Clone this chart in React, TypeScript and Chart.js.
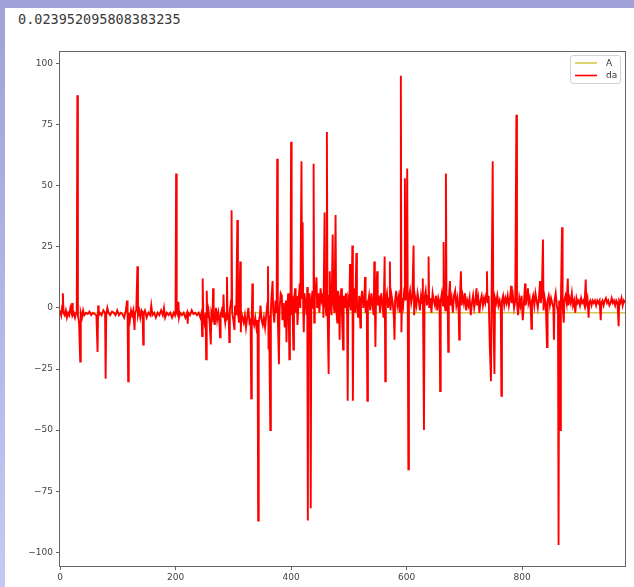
import { useEffect, useRef } from "react";
import { Chart, registerables } from "chart.js";

Chart.register(...registerables);

// Value printed by the cell above the plot
const printedValue = "0.023952095808383235";

// Axis ticks
const xTicks = [0, 200, 400, 600, 800];
const xMax = 978;
const yTicks = [-100, -75, -50, -25, 0, 25, 50, 75, 100];
const yTickLabels = ["−100", "−75", "−50", "−25", "0", "25", "50", "75", "100"];
const yMin = -105.6;
const yMax = 104.7;

const seriesNames = ["A", "da"];

// Series A: flat level just under zero
const aSeries: [number, number][] = [
  [0, -2], [250, -2], [500, -2], [750, -2], [978, -2],
];

// Series da, index → value, split by stretch of the record
const daQuiet: [number, number][] = [
  [0, -1], [2, -3], [4, 1], [5, 6], [6, -2], [8, -3], [10, -1], [12, -4], [14, -2], [16, -3],
  [18, 0], [20, -2], [21, 2], [22, -3], [24, -2], [26, -4], [28, -2], [29, -1], [30, 87], [31, -3],
  [33, -6], [35, -22], [36, -2], [38, -4], [40, -1], [42, -3], [45, -2], [48, -2.5], [51, -1.5], [54, -3],
  [57, -2], [60, -2.5], [63, -3], [65, -18], [66, 1], [67, -3], [69, -2], [72, -3], [75, -1], [78, -2],
  [79, -29], [80, -3], [82, 0], [84, -2], [87, -3], [90, -1.5], [93, -2], [96, -3], [99, -1], [102, -3],
  [105, -2], [108, -2.5], [111, -4], [114, -1], [116, 3], [117, -3], [118, -30], [119, -2], [121, -5], [123, -1],
  [125, -3], [127, -1], [129, -9], [130, -2], [132, -1], [134, 17], [135, -3], [137, -1], [139, -4], [141, -1],
  [143, -2], [144, -15], [145, -2], [147, -1], [150, -4], [153, -2], [156, -3], [158, 1], [160, -3], [163, -2],
  [166, -4], [169, -2], [172, -3], [175, -1], [178, -3], [180, 0], [182, -4], [185, -2], [188, -3], [191, -2],
  [194, -4], [197, -2], [199, -3], [200, -1], [201, 55], [202, -2], [204, -3], [205, 2.5], [206, -4], [208, -2],
  [211, -3], [214, -2], [217, -4], [220, -2], [221, -6.5], [222, -2], [225, -3], [228, -1], [231, -2.5], [234, -2],
  [237, -3], [240, -2], [243, -4],
];

const daRising: [number, number][] = [
  [245, -2], [246, -11.5], [247, 12], [248, -3], [250, -6], [252, -2], [253, -21], [254, 7], [255, -4], [257, -1],
  [259, -6], [261, -15], [262, -2], [264, -4], [265, 8], [266, -3], [268, -7], [270, 0], [272, -5], [274, -2],
  [276, -6], [277, -12], [278, -3], [280, -1], [282, -4], [283, 5.5], [284, -2], [286, -6], [288, -2], [289, 12.6],
  [290, -4], [292, -3], [293, -14], [294, -1], [296, 3], [297, 40], [298, -2], [300, -5], [302, -9], [303, 1],
  [305, -3], [307, 36], [308, -2], [310, -6], [312, 19], [313, -10], [314, -2], [316, -4], [318, -6], [320, -3],
  [322, -8], [324, -4], [326, 0], [328, -6], [330, -5], [331, -37], [332, -3], [333, 10], [334, -5], [336, -7],
  [338, -4], [340, -8], [342, -5], [343, -87], [344, -6], [346, -3], [347, 1], [349, -5], [351, -7], [353, -4],
  [355, -8], [357, -3], [359, 2], [360, 17], [361, -17], [362, -3], [364, -50], [365, -2], [366, 4], [368, 11],
  [369, -1], [371, -6], [373, 3], [375, -2], [376, 61], [377, -4], [379, -23], [380, -1], [382, 6], [384, 5],
  [385, -5], [387, 2], [389, -8], [391, 3], [392, -14], [393, -2], [395, 6], [396, -3], [397, -21], [398, -4],
  [399, 2], [400, 68], [401, -3],
];

const daActive: [number, number][] = [
  [402, 5], [404, -17], [405, 3], [407, 8], [408, -2], [410, 5], [411, -7], [413, 3], [415, 10], [416, 0],
  [418, 60], [419, 4], [420, 35], [421, -1], [422, -10], [423, 6], [425, 2], [427, -3], [428, 8.5], [429, -87],
  [430, 3], [432, 6], [433, -1], [434, -82], [435, 2], [437, 7], [438, 0], [439, 59], [440, -6], [441, 4],
  [443, 9], [444, 12.5], [445, 0], [447, 6], [449, -2], [451, 8], [453, 3], [455, 5], [456, -4], [458, 39],
  [459, 2], [461, -3], [462, 72], [463, 1], [465, -27], [466, 5], [467, 15], [468, 2], [470, -3], [472, 30],
  [473, 3], [475, -2], [477, 38], [478, 0], [480, -6], [481, 7], [483, 2], [484, -13], [485, 4], [487, 8],
  [488, -2], [490, -17], [491, 5], [493, 0], [495, 6], [497, -3], [498, -38], [499, 4], [501, 2], [502, 18],
  [503, -1], [505, 3], [506, 25.5], [507, -38], [508, 3], [510, 8], [511, -2], [513, 22.5], [514, 1], [516, -4],
  [518, 5], [520, -8], [521, 3], [523, 7], [525, 0], [527, 4], [528, 12.6], [529, -2], [531, 3], [532, -38],
  [533, 2], [535, 5], [537, -1], [539, 6], [541, 1], [543, -3], [544, 19], [545, 2], [546, -16], [547, 4],
  [549, 15], [550, 1], [552, 5], [554, -2], [556, 6], [558, 2], [560, -4], [562, 21], [563, -30], [564, 3],
  [566, 6], [568, 0], [570, 4], [571, 19], [572, -1], [574, 5], [576, 2], [578, -4], [579, -13], [580, 3],
  [582, 7], [584, 1], [586, 4], [588, -2], [589, 7], [590, 95], [591, -10],
];

const daLate: [number, number][] = [
  [592, 4], [594, 1], [596, 8], [597, 53], [598, 3], [600, 6], [601, 57], [603, -66], [604, 4], [606, 7],
  [608, 2], [610, 5], [612, 25.5], [613, -3], [615, 4], [617, 1], [619, 6], [621, 3], [623, -1], [625, 5],
  [627, 2], [628, 12], [630, -50], [631, 4], [633, 7], [635, 1], [637, 5], [638, 21], [639, 0], [641, 4],
  [643, -2], [645, 6], [647, 3], [649, 1], [651, 5], [653, -1], [655, 4], [657, 2], [658, -34], [659, 3],
  [661, 6], [663, 1], [664, 27], [665, 3], [667, -1], [668, 55], [669, 2], [671, 5], [672, -18], [673, 3],
  [675, 11], [676, 1], [678, 4], [680, -2], [682, 5], [684, 7], [686, 1], [688, 4], [690, -1], [691, -13],
  [692, 3], [694, 15], [695, 1], [697, 5], [699, 2], [701, 6], [703, -1], [705, 3], [707, 1], [709, 4],
  [711, -3], [713, 2], [715, 5], [717, 0], [719, 3], [721, 8], [722, 1], [724, 4], [726, -2], [728, 3],
  [730, 5], [732, 1], [734, 4], [736, 2], [738, 6], [739, 15], [740, 2], [742, 5], [744, -16], [746, -30],
  [747, 3], [749, 60], [750, 1], [752, -27], [753, 4], [755, 2], [757, 5], [759, 1], [761, 3], [763, 0],
  [764, -36], [765, 3], [767, 5], [769, 1], [771, 4], [773, 2], [775, 5], [777, 1], [779, 4], [781, 9],
  [782, 2], [784, 5], [786, 0], [788, 3], [790, 79], [791, 2],
];

const daTail: [number, number][] = [
  [793, -3], [795, 4], [797, 1], [799, 5], [801, -5], [803, 2], [805, 10], [806, 1], [808, 4], [810, 8],
  [811, 2], [813, 4], [815, -1], [816, -8.6], [817, 3], [819, 5], [821, 1], [823, 6], [825, 3], [827, 0],
  [829, 4], [831, 11], [832, 2], [834, 5], [836, 28], [837, -1], [839, 4], [841, 1], [843, -16], [844, 3],
  [846, 5], [848, 1], [850, 4], [852, 2], [854, 0], [855, -13], [856, 3], [858, 6], [860, 1], [862, -2],
  [863, -97], [864, 3], [866, -50], [867, 2], [869, 33], [870, 1], [872, -6], [873, 3], [875, 5], [877, 2],
  [879, 12], [880, 1], [882, 4], [884, 2], [886, 6], [888, 1], [890, 3], [892, -2], [894, 4], [896, 2],
  [898, 3], [900, 1], [902, 4], [904, 2], [906, 3], [908, 1], [910, 11.6], [911, 2], [913, 4], [915, -4],
  [916, 2], [918, 3], [920, 1], [922, 3], [924, 2], [926, 3], [928, 1], [930, 3], [932, 2], [934, 3],
  [936, -5], [937, 2], [939, 3], [941, 1], [943, 3], [945, 4], [947, 2], [949, 3], [951, 1], [953, 2],
  [955, 4], [957, 2], [959, 3], [961, 1], [963, 3], [965, 2], [967, -7.5], [968, 3], [970, 2], [972, 4],
  [974, 1], [976, 3], [978, 2],
];

const colorA = "#d4c94c";
const colorDa = "#ff0000";
const tickColor = "#444";
const spineColor = "#666";
const fontFamily = '"DejaVu Sans", sans-serif';

const toXY = (pts: [number, number][]) => pts.map(([x, y]) => ({ x, y }));

// Axes box on all four sides, drawn over the lines
const framePlugin = {
  id: "frame",
  afterDatasetsDraw(chart: any) {
    const { ctx, chartArea } = chart;
    ctx.save();
    ctx.strokeStyle = spineColor;
    ctx.lineWidth = 1;
    ctx.strokeRect(
      chartArea.left - 0.5,
      chartArea.top - 0.5,
      chartArea.right - chartArea.left + 1,
      chartArea.bottom - chartArea.top + 1
    );
    ctx.restore();
  },
};

// Boxed legend in the upper right corner of the plot
const insetLegendPlugin = {
  id: "insetLegend",
  afterDraw(chart: any) {
    const { ctx, chartArea } = chart;
    const w = 50;
    const h = 28;
    const x = chartArea.right - 5 - w;
    const y = chartArea.top + 3;
    ctx.save();
    ctx.beginPath();
    ctx.roundRect(x + 0.5, y + 0.5, w, h, 2.5);
    ctx.fillStyle = "rgba(255,255,255,0.85)";
    ctx.fill();
    ctx.strokeStyle = "#d2d2d2";
    ctx.lineWidth = 1;
    ctx.stroke();
    const colors = [colorA, colorDa];
    ctx.font = `9px ${fontFamily}`;
    ctx.textBaseline = "middle";
    ctx.textAlign = "left";
    seriesNames.forEach((name, i) => {
      const ly = y + 8 + i * 12.5;
      ctx.strokeStyle = colors[i];
      ctx.lineWidth = 1.6;
      ctx.beginPath();
      ctx.moveTo(x + 5, ly);
      ctx.lineTo(x + 27, ly);
      ctx.stroke();
      ctx.fillStyle = "#333";
      ctx.fillText(name, x + 36, ly + 0.5);
    });
    ctx.restore();
  },
};

function LineChart() {
  const canvasRef = useRef<HTMLCanvasElement | null>(null);

  useEffect(() => {
    const canvas = canvasRef.current;
    if (!canvas) return;
    const daSeries = [...daQuiet, ...daRising, ...daActive, ...daLate, ...daTail];
    const chart = new Chart(canvas, {
      type: "line",
      data: {
        datasets: [
          {
            label: seriesNames[0],
            data: toXY(aSeries),
            borderColor: colorA,
            borderWidth: 1.5,
            pointRadius: 0,
            tension: 0,
            order: 1,
          },
          {
            label: seriesNames[1],
            data: toXY(daSeries),
            borderColor: colorDa,
            borderWidth: 1.9,
            pointRadius: 0,
            tension: 0,
            order: 0,
          },
        ],
      },
      options: {
        animation: false,
        responsive: false,
        maintainAspectRatio: false,
        events: [],
        layout: { padding: { left: 0, top: 52, right: 9, bottom: 0 } },
        plugins: {
          legend: { display: false },
          tooltip: { enabled: false },
        },
        scales: {
          x: {
            type: "linear",
            min: 0,
            max: xMax,
            afterBuildTicks: (scale: any) => {
              scale.ticks = xTicks.map((value) => ({ value }));
            },
            afterFit: (scale: any) => {
              scale.height = 21;
            },
            grid: {
              drawOnChartArea: false,
              drawTicks: true,
              tickLength: 4,
              tickColor: spineColor,
            },
            border: { display: false },
            ticks: {
              color: tickColor,
              font: { family: fontFamily, size: 9 },
              padding: 2,
              maxRotation: 0,
              autoSkip: false,
              callback: (value: any) => String(value),
            },
          },
          y: {
            type: "linear",
            min: yMin,
            max: yMax,
            afterBuildTicks: (scale: any) => {
              scale.ticks = yTicks.map((value) => ({ value }));
            },
            afterFit: (scale: any) => {
              scale.width = 60;
            },
            grid: {
              drawOnChartArea: false,
              drawTicks: true,
              tickLength: 4,
              tickColor: spineColor,
            },
            border: { display: false },
            ticks: {
              color: tickColor,
              font: { family: fontFamily, size: 9 },
              padding: 3,
              autoSkip: false,
              callback: (value: any) => {
                const i = yTicks.indexOf(Number(value));
                return i >= 0 ? yTickLabels[i] : "";
              },
            },
          },
        },
      },
      plugins: [framePlugin, insetLegendPlugin],
    });
    return () => chart.destroy();
  }, []);

  return (
    <canvas
      ref={canvasRef}
      width={634}
      height={587}
      style={{ position: "absolute", left: 0, top: 0, display: "block" }}
    />
  );
}

export default function App() {
  return (
    <div
      style={{
        position: "fixed",
        left: 0,
        top: 0,
        width: 634,
        height: 587,
        background: "#ffffff",
        overflow: "hidden",
      }}
    >
      <div
        style={{
          position: "absolute",
          left: 0,
          top: 0,
          width: 634,
          height: 8,
          background: "#9ea2d8",
        }}
      />
      <div
        style={{
          position: "absolute",
          left: 0,
          top: 0,
          width: 5,
          height: 587,
          background: "linear-gradient(#9ea2d8, #c3caf2)",
        }}
      />
      <pre
        style={{
          position: "absolute",
          left: 18,
          top: 11,
          margin: 0,
          font: '13.5px "DejaVu Sans Mono", monospace',
          color: "#3a3a3a",
        }}
      >
        {printedValue}
      </pre>
      <LineChart />
    </div>
  );
}
